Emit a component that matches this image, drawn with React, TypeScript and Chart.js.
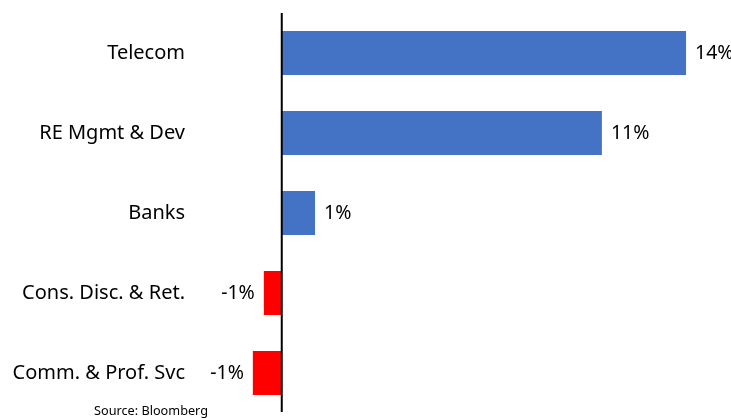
import React, { useEffect, useRef } from "react";
import { Chart, registerables } from "chart.js";

Chart.register(...registerables);

const categories = ["Telecom", "RE Mgmt & Dev", "Banks", "Cons. Disc. & Ret.", "Comm. & Prof. Svc"];
const values = [13.98, 11.07, 1.15, -0.62, -1.0];
const valueLabels = ["14%", "11%", "1%", "-1%", "-1%"];
const barColors = ["#4472C4", "#4472C4", "#4472C4", "#FF0000", "#FF0000"];
const sourceText = "Source: Bloomberg";

const FONT = "'Noto Sans', 'Open Sans', sans-serif";

const overlayPlugin = {
  id: "overlay",
  afterDatasetsDraw(chart: any) {
    const ctx = chart.ctx;
    const meta = chart.getDatasetMeta(0);
    const xs = chart.scales.x;
    ctx.save();
    ctx.font = `19.5px ${FONT}`;
    ctx.fillStyle = "#000";
    ctx.textBaseline = "middle";
    meta.data.forEach((bar: any, i: number) => {
      const v = values[i];
      if (v >= 0) {
        ctx.textAlign = "left";
        ctx.fillText(valueLabels[i], bar.x + 9, bar.y);
      } else {
        ctx.textAlign = "right";
        ctx.fillText(valueLabels[i], bar.x - 9, bar.y);
      }
    });
    // zero axis line
    const x0 = xs.getPixelForValue(0);
    ctx.strokeStyle = "#000";
    ctx.lineWidth = 2;
    ctx.beginPath();
    ctx.moveTo(x0, 13);
    ctx.lineTo(x0, 412);
    ctx.stroke();
    // source
    ctx.font = `12.7px ${FONT}`;
    ctx.textAlign = "left";
    ctx.textBaseline = "alphabetic";
    ctx.fillText(sourceText, 94, 415);
    ctx.restore();
  },
};

export default function App() {
  const ref = useRef<HTMLCanvasElement | null>(null);
  useEffect(() => {
    if (!ref.current) return;
    const chart = new Chart(ref.current, {
      type: "bar",
      data: {
        labels: categories,
        datasets: [
          {
            data: values,
            backgroundColor: barColors,
            borderWidth: 0,
            barPercentage: 0.55,
            categoryPercentage: 1,
          },
        ],
      },
      options: {
        indexAxis: "y",
        animation: false,
        responsive: false,
        maintainAspectRatio: false,
        layout: { padding: { top: 13, bottom: 5, left: 0, right: 1 } },
        plugins: { legend: { display: false }, tooltip: { enabled: false } },
        scales: {
          x: {
            display: false,
            min: -3,
            max: 15.5,
          },
          y: {
            afterFit: (scale: any) => {
              scale.width = 195;
              scale.paddingTop = 0;
              scale.paddingBottom = 0;
            },
            grid: { display: false, drawTicks: false },
            border: { display: false },
            ticks: {
              padding: 10,
              color: "#000",
              font: { family: FONT, size: 20 },
            },
          },
        },
      },
      plugins: [overlayPlugin],
    });
    return () => chart.destroy();
  }, []);
  return (
    <div style={{ position: "absolute", left: 0, top: 0, width: 731, height: 418, background: "#fff" }}>
      <canvas ref={ref} width={731} height={418} style={{ width: 731, height: 418 }} />
    </div>
  );
}
